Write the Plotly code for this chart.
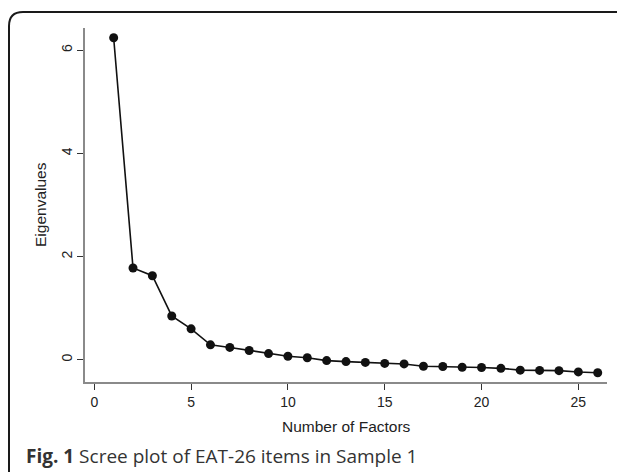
import plotly.graph_objects as go

factors = list(range(1, 27))
eigenvalues = [6.24, 1.78, 1.63, 0.85, 0.60, 0.29, 0.24, 0.18, 0.12, 0.07,
               0.04, -0.015, -0.035, -0.05, -0.07, -0.08, -0.125, -0.13, -0.145, -0.15,
               -0.165, -0.20, -0.205, -0.21, -0.235, -0.25]
x_ticks = [0, 5, 10, 15, 20, 25]
y_ticks = [0, 2, 4, 6]
x_title = "Number of Factors"
y_title = "Eigenvalues"
caption = "<b>Fig. 1</b> Scree plot of EAT-26 items in Sample 1"

# page body margin offsets the figure by 8px; work in page pixels
OFF = 8
W, H = 625 - OFF, 472 - OFF
L, R, T, B = 85 - OFF, 607 - OFF, 28 - OFF, 382 - OFF
PW, PH = R - L, B - T


def px(x):
    return (x - OFF - L) / PW


def py(y):
    return (B - (y - OFF)) / PH


FONT = "Liberation Sans, Arial, sans-serif"

fig = go.Figure()
fig.add_trace(go.Scatter(
    x=factors, y=eigenvalues, mode="lines+markers",
    line=dict(color="#111111", width=1.6),
    marker=dict(color="#111111", size=9),
    showlegend=False, hoverinfo="skip",
))

axis_common = dict(
    showgrid=False, zeroline=False, showline=True, linecolor="#8a8a8a", linewidth=1.5,
    ticks="outside", ticklen=6, tickwidth=1, tickcolor="#333333",
    tickfont=dict(family=FONT, size=14, color="#222222"),
)

fig.update_layout(
    width=W, height=H,
    margin=dict(l=L, r=W - R, t=T, b=H - B),
    paper_bgcolor="white", plot_bgcolor="white",
    xaxis=dict(range=[-0.48, 26.48], tickvals=x_ticks, **axis_common),
    yaxis=dict(range=[-0.43, 6.43], tickvals=y_ticks, tickangle=-90, **axis_common),
    font=dict(family=FONT),
)

# Outer rounded frame (top and left visible)
path = (f"M {px(9)},{py(490)} L {px(9)},{py(26)} "
        f"Q {px(9)},{py(12)} {px(23)},{py(12)} L {px(660)},{py(12)}")
fig.add_shape(type="path", path=path, xref="paper", yref="paper",
              line=dict(color="#1a1a1a", width=2))

fig.add_annotation(text=x_title, xref="paper", yref="paper",
                   x=0.5, y=py(426), showarrow=False, yanchor="middle",
                   font=dict(family=FONT, size=15.5, color="#222222"))
fig.add_annotation(text=y_title, xref="paper", yref="paper",
                   x=px(40), y=0.5, showarrow=False, textangle=-90, xanchor="center",
                   font=dict(family=FONT, size=15.5, color="#222222"))
fig.add_annotation(text=caption, xref="paper", yref="paper",
                   x=px(24), y=py(456), showarrow=False, xanchor="left", yanchor="middle",
                   font=dict(family="Open Sans, sans-serif", size=19, color="#333333"))

fig.write_html("out.html")
